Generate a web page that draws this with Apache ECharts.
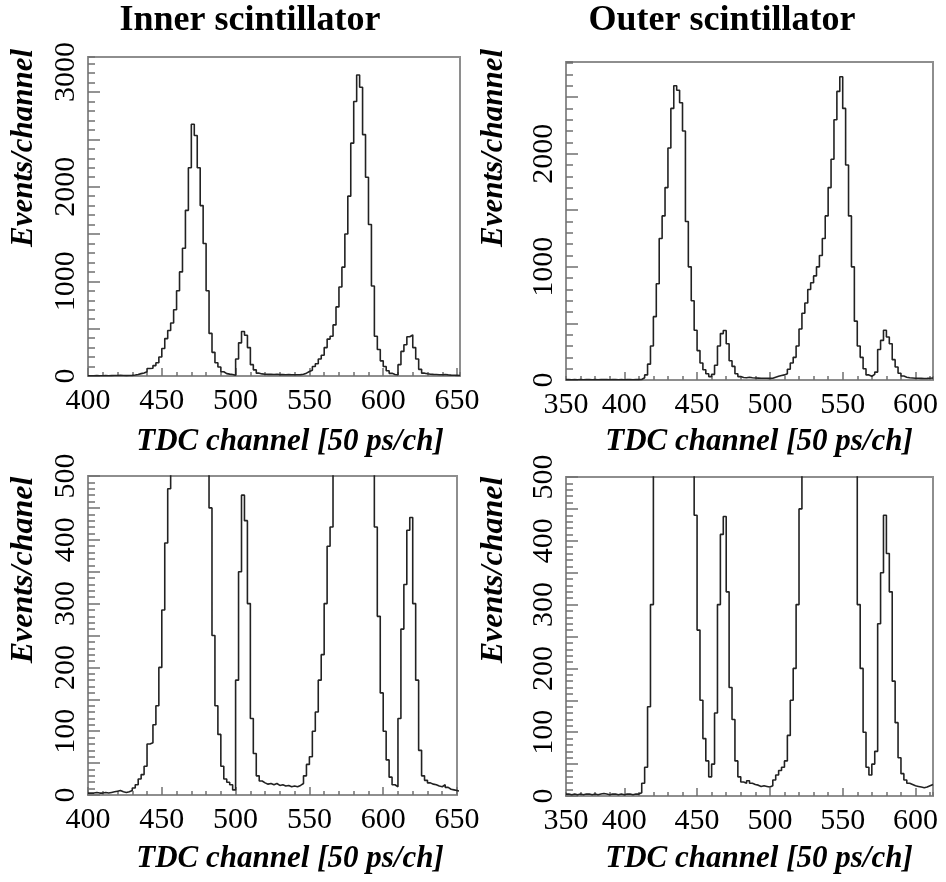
<!DOCTYPE html>
<html>
<head>
<meta charset="utf-8">
<script src="https://cdn.jsdelivr.net/npm/echarts@6/dist/echarts.min.js"></script>
<style>
  html, body { margin: 0; padding: 0; background: #fff; }
  #chart { width: 946px; height: 882px; }
</style>
</head>
<body>
<div id="chart"></div>
<script>
// histogram bins are 2 TDC channels wide, values are left bin edges
const binWidth = 2

// inner scintillator, bins from channel 400
const innerStart = 400
const innerCounts = [
  3, 3, 4, 3, 3, 4, 3, 4, 5, 6,
  7, 5, 4, 5, 7, 11, 16, 25, 32, 45,
  80, 82, 110, 140, 200, 290, 395, 480, 560, 700,
  900, 1100, 1350, 1750, 2200, 2660, 2540, 2200, 1800, 1400,
  900, 450, 250, 140, 95, 45, 25, 20, 16, 8,
  180, 350, 470, 430, 300, 120, 65, 30, 22, 19,
  17, 18, 16, 18, 15, 16, 14, 15, 13, 14,
  13, 15, 18, 30, 48, 60, 100, 130, 180, 220,
  300, 390, 420, 540, 730, 940, 1150, 1500, 1900, 2460,
  2900, 3180, 3050, 2550, 2100, 1600, 950, 420, 280, 160,
  100, 55, 28, 16, 13, 120, 260, 330, 415, 435,
  300, 180, 70, 30, 23, 19, 17, 16, 14, 13,
  16, 12, 9, 8, 7, 6
]

// outer scintillator, bins from channel 360
const outerStart = 360
const outerCounts = [
  3, 2, 3, 2, 3, 2, 3, 3, 2, 3,
  2, 3, 4, 3, 2, 3, 3, 2, 3, 2,
  3, 3, 2, 3, 3, 5, 20, 45, 140, 300,
  560, 850, 1250, 1450, 1700, 2050, 2400, 2600, 2560, 2450,
  2200, 1400, 1000, 700, 440, 260, 150, 90, 55, 30,
  50, 130, 300, 410, 438, 320, 170, 120, 55, 30,
  22, 20, 24, 20, 18, 17, 15, 16, 15, 14,
  16, 25, 33, 40, 45, 55, 95, 150, 200, 300,
  450, 590, 680, 800, 860, 920, 1000, 1100, 1250, 1450,
  1700, 1950, 2300, 2550, 2680, 2400, 1900, 1450, 1000, 520,
  300, 200, 100, 45, 33, 50, 70, 270, 350, 440,
  380, 320, 180, 115, 60, 35, 25, 20, 18, 16,
  15, 14, 13, 14, 16, 18
]

// tick labels
const innerXTicks = [400, 450, 500, 550, 600, 650]
const innerXLabelAt = [400, 450, 500, 550, 600, 650]
const innerXLabelText = ['400', '450', '500', '550', '600', '650']
const outerXTicks = [400, 450, 500, 550, 600]
const outerXLabelAt = [360, 400, 450, 500, 550, 600]
const outerXLabelText = ['350', '400', '450', '500', '550', '600']

const innerTopYTicks = [0, 500, 1000, 1500, 2000, 2500, 3000]
const innerTopYLabels = [0, 1000, 2000, 3000]
const outerTopYTicks = [0, 500, 1000, 1500, 2000, 2500]
const outerTopYLabels = [0, 1000, 2000]
const zoomYTicks = [0, 50, 100, 150, 200, 250, 300, 350, 400, 450, 500]
const zoomYLabels = [0, 100, 200, 300, 400, 500]

const titles = ['Inner scintillator', 'Outer scintillator']
const xTitle = 'TDC channel [50 ps/ch]'
const yTitleTop = 'Events/channel'
const yTitleBottom = 'Events/chanel'

const frameColor = '#8e8e8e'
const tickColor = '#707070'
const lineColor = '#222222'
const serif = 'Liberation Serif'
const tickFont = 30

function steps (start, counts) {
  let pts = counts.map((c, i) => [start + i * binWidth, c])
  pts.push([start + counts.length * binWidth, counts[counts.length - 1]])
  return pts
}

const panels = [
  {
    grid: { left: 88, top: 57, width: 372, height: 319 },
    xMin: 400, xMax: 652, xTicks: innerXTicks, xLabelAt: innerXLabelAt, xLabelText: innerXLabelText,
    yMax: 3370, yStep: 100, yTicks: innerTopYTicks, yLabels: innerTopYLabels, raise: 3000,
    data: steps(innerStart, innerCounts)
  },
  {
    grid: { left: 566, top: 62, width: 367, height: 318 },
    xMin: 360, xMax: 612, xTicks: outerXTicks, xLabelAt: outerXLabelAt, xLabelText: outerXLabelText,
    yMax: 2810, yStep: 100, yTicks: outerTopYTicks, yLabels: outerTopYLabels, raise: null,
    data: steps(outerStart, outerCounts)
  },
  {
    grid: { left: 88, top: 476, width: 369, height: 319 },
    xMin: 400, xMax: 650, xTicks: innerXTicks, xLabelAt: innerXLabelAt, xLabelText: innerXLabelText,
    yMax: 500, yStep: 10, yTicks: zoomYTicks, yLabels: zoomYLabels, raise: null,
    data: steps(innerStart, innerCounts)
  },
  {
    grid: { left: 566, top: 477, width: 367, height: 319 },
    xMin: 360, xMax: 612, xTicks: outerXTicks, xLabelAt: outerXLabelAt, xLabelText: outerXLabelText,
    yMax: 500, yStep: 10, yTicks: zoomYTicks, yLabels: zoomYLabels, raise: null,
    data: steps(outerStart, outerCounts)
  }
]

let grids = []
let xAxes = []
let yAxes = []
let series = []

panels.forEach((p, i) => {
  grids.push(Object.assign({
    show: true,
    borderColor: frameColor,
    borderWidth: 2,
    backgroundColor: '#fff',
    outerBoundsMode: 'none'
  }, p.grid))

  // minor x ticks every 10 channels
  xAxes.push({
    type: 'value', gridIndex: i, position: 'bottom', min: p.xMin, max: p.xMax, interval: 10,
    axisLine: { show: false }, splitLine: { show: false },
    axisTick: { inside: true, length: 4, lineStyle: { color: tickColor, width: 1.5 } },
    axisLabel: { show: false }
  })
  // major x ticks and labels
  xAxes.push({
    type: 'value', gridIndex: i, position: 'bottom', min: p.xMin, max: p.xMax,
    axisLine: { show: false }, splitLine: { show: false },
    axisTick: { inside: true, length: 8, customValues: p.xTicks, lineStyle: { color: tickColor, width: 1.5 } },
    axisLabel: {
      customValues: p.xLabelAt,
      margin: 10,
      fontFamily: serif,
      fontSize: tickFont,
      color: '#000',
      formatter: function (v) {
        let k = p.xLabelAt.indexOf(v)
        return k >= 0 ? p.xLabelText[k] : ''
      }
    }
  })

  // minor y ticks
  yAxes.push({
    type: 'value', gridIndex: i, position: 'left', min: 0, max: p.yMax, interval: p.yStep,
    axisLine: { show: false }, splitLine: { show: false },
    axisTick: { inside: true, length: 7, lineStyle: { color: tickColor, width: 1.5 } },
    axisLabel: { show: false }
  })
  // major y ticks and labels
  yAxes.push({
    type: 'value', gridIndex: i, position: 'left', min: 0, max: p.yMax,
    axisLine: { show: false }, splitLine: { show: false },
    axisTick: { inside: true, length: 12, customValues: p.yTicks, lineStyle: { color: tickColor, width: 1.5 } },
    axisLabel: {
      customValues: p.yLabels,
      rotate: 90,
      margin: 7,
      fontFamily: serif,
      fontSize: tickFont,
      color: '#000',
      formatter: function (v) {
        return v === p.raise ? '{up|' + v + '}' : String(v)
      },
      rich: {
        up: { fontFamily: serif, fontSize: tickFont, color: '#000', padding: [0, 0, 0, 40] }
      }
    }
  })

  series.push({
    type: 'line',
    xAxisIndex: i * 2,
    yAxisIndex: i * 2,
    data: p.data,
    step: 'end',
    symbol: 'none',
    showSymbol: false,
    clip: true,
    silent: true,
    lineStyle: { color: lineColor, width: 1.6 }
  })
})

function label (text, x, y, size, style, rot) {
  return {
    type: 'text',
    x: x,
    y: y,
    rotation: rot || 0,
    silent: true,
    style: {
      text: text,
      font: style + ' ' + size + 'px "' + serif + '"',
      fill: '#000',
      textAlign: 'center',
      textVerticalAlign: 'middle'
    }
  }
}

let graphics = [
  label(titles[0], 250, 21, 36, 'bold', 0),
  label(titles[1], 722, 21, 36, 'bold', 0),
  label(xTitle, 290, 442, 31, 'italic bold', 0),
  label(xTitle, 759, 442, 31, 'italic bold', 0),
  label(xTitle, 290, 859, 31, 'italic bold', 0),
  label(xTitle, 759, 859, 31, 'italic bold', 0),
  label(yTitleTop, 24, 148, 31, 'italic bold', Math.PI / 2),
  label(yTitleTop, 494, 148, 31, 'italic bold', Math.PI / 2),
  label(yTitleBottom, 24, 570, 32, 'italic bold', Math.PI / 2),
  label(yTitleBottom, 494, 570, 32, 'italic bold', Math.PI / 2)
]

let option = {
  backgroundColor: '#fff',
  animation: false,
  grid: grids,
  xAxis: xAxes,
  yAxis: yAxes,
  series: series,
  graphic: graphics
}

let chart = echarts.init(document.getElementById('chart'), null, { renderer: 'canvas' })
chart.setOption(option)
</script>
</body>
</html>
